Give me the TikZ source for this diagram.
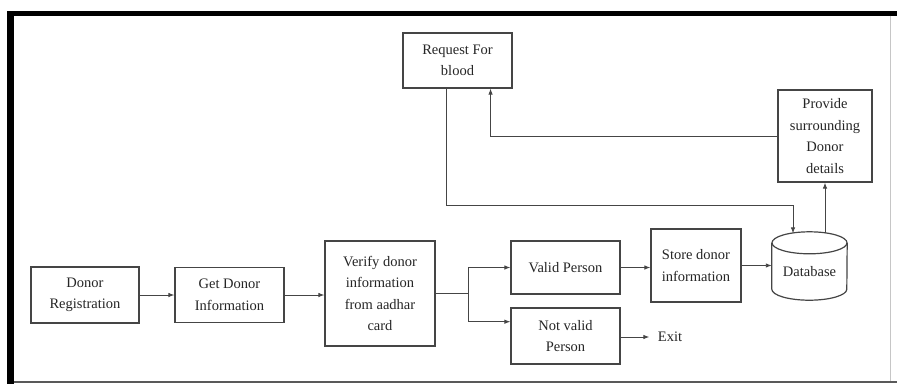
\documentclass[tikz,border=0pt]{standalone}
\usepackage{fontspec}
\setmainfont{Liberation Serif}
\usetikzlibrary{arrows.meta,calc}
\definecolor{edgec}{HTML}{454545}
\definecolor{inkc}{HTML}{262626}
\tikzset{
  stepbox/.style={draw=edgec, line width=1.2pt, align=center, inner sep=0pt,
    text=inkc, font=\fontsize{14.5}{21.5}\selectfont},
  link/.style={draw=edgec, line width=0.9pt, -{Latex[length=6pt,width=4.5pt]}},
  plainlink/.style={draw=edgec, line width=0.9pt},
  drum/.style={draw=edgec, line width=1.2pt},
}
\begin{document}
\begin{tikzpicture}[x=1pt,y=-1pt]
  \useasboundingbox (0,0) rectangle (897,384);
  \fill[white] (0,0) rectangle (897,384);

  % page frame: heavy top and left rules, light right and bottom rules
  \fill[black] (7,11) rectangle (897,15.5);
  \fill[black] (7,11) rectangle (14,384);
  \draw[gray!45, line width=1pt] (890,15.5) -- (890,381);
  \draw[gray!70!black, line width=2pt] (14,381.5) -- (897,381.5);

  % process boxes
  \node[stepbox, minimum width=108pt, minimum height=56pt] (reg) at (85,295) {Donor\\Registration};
  \node[stepbox, minimum width=109pt, minimum height=55pt] (get) at (229.5,295) {Get Donor\\Information};
  \node[stepbox, minimum width=110pt, minimum height=105pt] (ver) at (380,293.5) {Verify donor\\information\\from aadhar\\card};
  \node[stepbox, minimum width=109pt, minimum height=53pt] (valid) at (565.5,267.5) {Valid Person};
  \node[stepbox, minimum width=109pt, minimum height=56pt] (nv) at (565.5,336) {Not valid\\Person};
  \node[stepbox, minimum width=90pt, minimum height=73pt] (store) at (696,265.5) {Store donor\\information};
  \node[stepbox, minimum width=109pt, minimum height=55pt] (req) at (457.5,60.5) {Request For\\blood};
  \node[stepbox, minimum width=94pt, minimum height=92pt] (prov) at (825,136) {Provide\\surrounding\\Donor\\details};
  \node[stepbox, draw=none, inner xsep=8pt, inner ysep=2pt] (exit) at (670,337) {Exit};

  % database cylinder
  \node[minimum width=75pt, minimum height=68pt, inner sep=0pt] (db) at (809.5,266) {};
  \draw[drum] ($(db.north)+(0,11)$) ellipse [x radius=37.5, y radius=11];
  \draw[drum] ($(db.north west)+(0,11)$) -- ($(db.south west)+(0,-11)$)
    arc[start angle=180, end angle=0, x radius=37.5, y radius=11]
    -- ($(db.north east)+(0,11)$);
  \node[text=inkc, font=\fontsize{14.5}{21.5}\selectfont] (dbtext) at (809.5,272) {Database};

  % connection points
  \coordinate (br) at (468,293.5);
  \coordinate (nvin) at ($(nv.north west)!0.25!(nv.south west)$);
  \coordinate (dbin) at ($(db.north)+(-16.5,1.6)$);
  \coordinate (dbout) at ($(db.north)+(15.5,1.5)$);
  \coordinate (reqout) at ($(req.south west)!0.4!(req.south east)$);
  \coordinate (reqin) at ($(req.south west)!0.8!(req.south east)$);

  % connectors
  \draw[link] (reg) -- (get);
  \draw[link] (get.east) -- (get.east -| ver.west);
  \draw[plainlink] (ver.east) -- (br);
  \draw[link] (br) |- (valid.west);
  \draw[link] (br) |- (nvin);
  \draw[link] (valid.east) -- (valid.east -| store.west);
  \draw[link] (store.east) -- (store.east -| db.west);
  \draw[link] (nv.east |- exit.west) -- (exit.west);
  \draw[link] (reqout) -- ++(0,117) -| (dbin);
  \draw[link] (dbout) -- (dbout |- prov.south);
  \draw[link] (prov.west) -| (reqin);
\end{tikzpicture}
\end{document}
